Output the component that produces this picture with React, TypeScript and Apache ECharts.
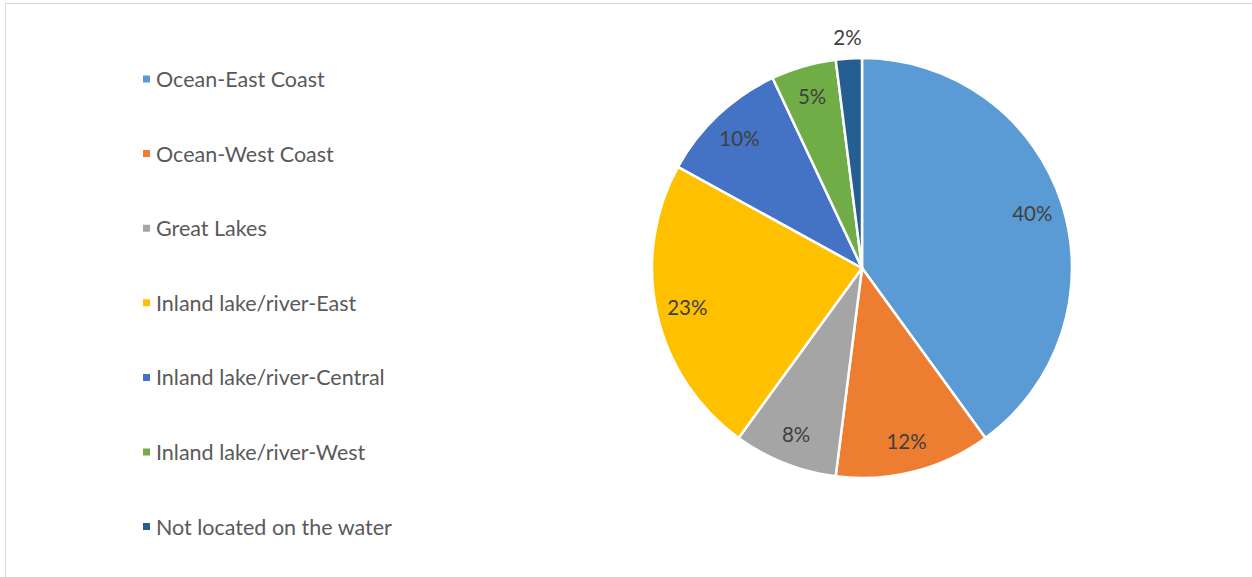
import React, { useEffect, useRef } from "react";
import * as echarts from "echarts";

const categories = [
  "Ocean-East Coast",
  "Ocean-West Coast",
  "Great Lakes",
  "Inland lake/river-East",
  "Inland lake/river-Central",
  "Inland lake/river-West",
  "Not located on the water",
];
const values = [40, 12, 8, 23, 10, 5, 2];
const colors = ["#5B9BD5", "#ED7D31", "#A5A5A5", "#FFC000", "#4472C4", "#70AD47", "#255E91"];
const outsideLabelIdx = [6];

export default function App() {
  const ref = useRef<HTMLDivElement>(null);
  useEffect(() => {
    const chart = echarts.init(ref.current!, null, { renderer: "svg" });
    const center = [862, 268];
    const labelStyle = {
      fontFamily: "Lato",
      fontSize: 20.5,
      color: "#404040",
      formatter: "{d}%",
    };
    const main = categories.map((n, i) => ({
      name: n,
      value: values[i],
      itemStyle: { color: colors[i] },
    }));
    const inside = categories.map((n, i) => ({
      name: n,
      value: values[i],
      label: { show: !outsideLabelIdx.includes(i) },
    }));
    const outside = categories.map((n, i) => ({
      name: n,
      value: values[i],
      label: { show: outsideLabelIdx.includes(i) },
    }));
    const overlayCommon = {
      type: "pie",
      center,
      startAngle: 90,
      silent: true,
      avoidLabelOverlap: false,
      itemStyle: { color: "rgba(0,0,0,0)", borderWidth: 0 },
      labelLine: { show: false },
      emphasis: { disabled: true },
      tooltip: { show: false },
    };
    chart.setOption({
      animation: false,
      legend: {
        orient: "vertical",
        left: 136,
        top: 63,
        icon: "rect",
        itemWidth: 9,
        itemHeight: 9,
        itemTextGap: 8,
        itemGap: 52.6,
        selectedMode: false,
        data: categories,
        textStyle: {
          fontFamily: "Lato",
          fontSize: 21.5,
          lineHeight: 20,
          color: "#595959",
        },
      },
      series: [
        {
          type: "pie",
          center,
          radius: [0, 210],
          startAngle: 90,
          avoidLabelOverlap: false,
          itemStyle: { borderColor: "#ffffff", borderWidth: 2.5 },
          label: { show: false },
          labelLine: { show: false },
          emphasis: { disabled: true },
          data: main,
        },
        {
          ...overlayCommon,
          radius: [0, 352],
          label: { position: "inside", ...labelStyle },
          data: inside,
        },
        {
          ...overlayCommon,
          radius: [0, 456],
          label: { position: "inside", ...labelStyle },
          data: outside,
        },
      ],
    });
    return () => chart.dispose();
  }, []);
  return (
    <div style={{ position: "fixed", left: 0, top: 0, width: 1252, height: 577, background: "#fff", overflow: "hidden" }}>
      <div
        style={{
          position: "absolute",
          left: 5,
          top: 3,
          width: 1300,
          height: 650,
          borderTop: "1.5px solid #D9D9D9",
          borderLeft: "1.5px solid #D9D9D9",
        }}
      />
      <div ref={ref} style={{ position: "absolute", left: 0, top: 0, width: 1252, height: 577 }} />
    </div>
  );
}
